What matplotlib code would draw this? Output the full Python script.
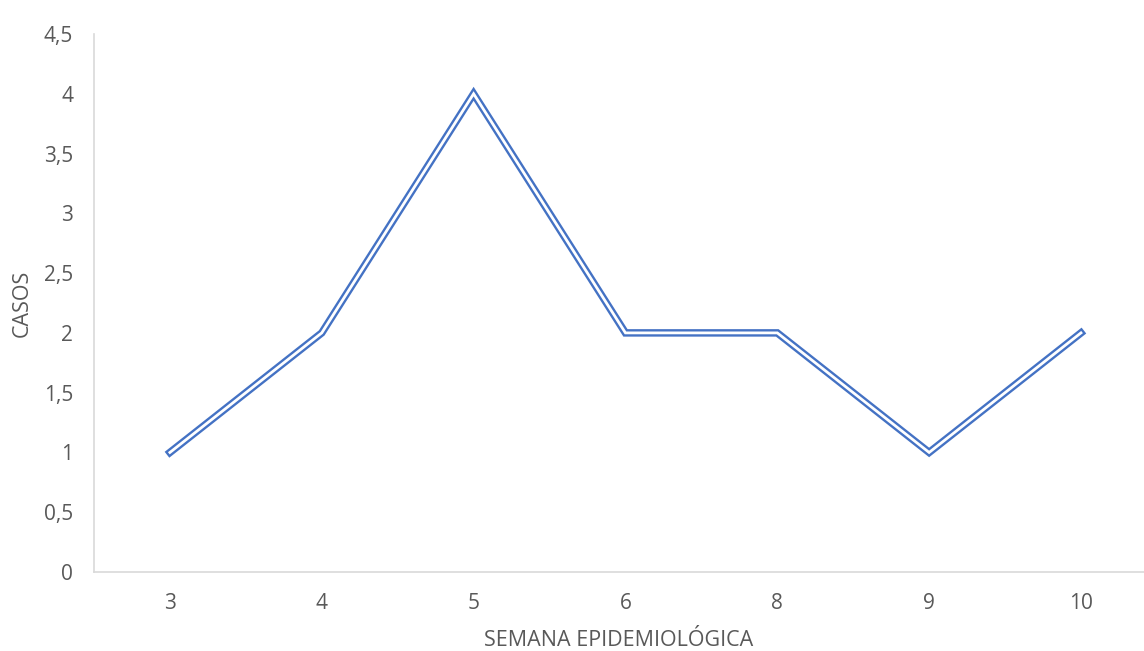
import matplotlib.pyplot as plt

# data
semanas = ['3', '4', '5', '6', '8', '9', '10']
casos = [1, 2, 4, 2, 2, 1, 2]
y_ticks = [0, 0.5, 1, 1.5, 2, 2.5, 3, 3.5, 4, 4.5]

plt.rcParams['font.family'] = ['Open Sans', 'DejaVu Sans']

fig = plt.figure(figsize=(11.44, 6.51), dpi=100)
ax = fig.add_axes([94 / 1144, 1 - 572 / 651, 1 - 94 / 1144, (572 - 34) / 651])

x = list(range(len(semanas)))
# double (compound) line: thick blue with a thin white core
ax.plot(x, casos, color='#4472c4', lw=5.4, solid_joinstyle='miter', zorder=3)
ax.plot(x, casos, color='white', lw=2.0, solid_joinstyle='miter', zorder=4)

ax.set_xlim(-0.5, (1144 - 170) / 151.83)
ax.set_ylim(0, 4.5)
ax.set_xticks(x)
ax.set_xticklabels(semanas)
ax.set_yticks(y_ticks)
ax.set_yticklabels([f'{v:g}'.replace('.', ',') for v in y_ticks])

for s in ['top', 'right']:
    ax.spines[s].set_visible(False)
for s in ['left', 'bottom']:
    ax.spines[s].set_color('#d9d9d9')
    ax.spines[s].set_linewidth(1.2)

ax.tick_params(length=0, labelsize=15, colors='#595959')
ax.tick_params(axis='y', pad=15)
ax.tick_params(axis='x', pad=15)

ax.set_xlabel('SEMANA EPIDEMIOLÓGICA', fontsize=15.5, color='#595959', labelpad=12)
ax.set_ylabel('CASOS', fontsize=15.5, color='#595959', labelpad=8)

fig.savefig('out.png', dpi=100)
